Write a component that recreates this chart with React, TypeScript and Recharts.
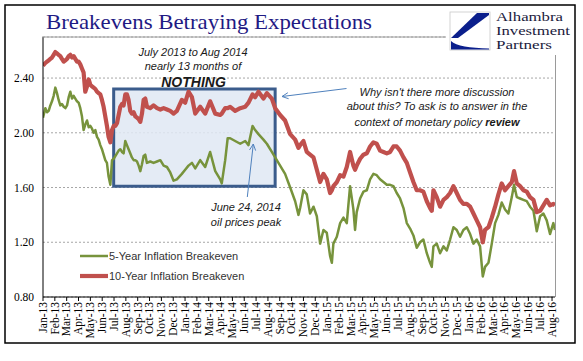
import React from "react";
import {
  LineChart,
  Line,
  XAxis,
  YAxis,
  CartesianGrid,
  ReferenceArea,
} from "recharts";

// position of each reading, in months since Jan-13
const monthPos = [
  0.0, 0.2, 0.34, 0.48, 0.62, 0.76, 0.9, 1.04, 1.18, 1.32, 1.46, 1.6, 1.75, 1.89,
  2.03, 2.17, 2.31, 2.45, 2.59, 2.73, 2.87, 3.01, 3.15, 3.29, 3.43, 3.57, 3.72,
  3.86, 4.0, 4.14, 4.28, 4.42, 4.56, 4.7, 4.84, 4.98, 5.12, 5.26, 5.4, 5.54, 5.69,
  5.83, 5.97, 6.11, 6.25, 6.39, 6.53, 6.67, 6.81, 6.95, 7.09, 7.23, 7.37, 7.51,
  7.66, 7.8, 7.94, 8.08, 8.22, 8.36, 8.5, 8.64, 8.78, 9.06, 9.34, 9.63, 9.91,
  10.19, 10.47, 10.75, 11.03, 11.31, 11.73, 12.01, 12.29, 12.58, 12.86, 13.28,
  13.7, 14.12, 14.55, 14.97, 15.1, 15.39, 15.6, 15.81, 16.23, 16.66, 17.08, 17.36,
  17.7, 17.92, 18.2, 18.62, 18.91, 19.33, 19.61, 20.03, 20.45, 20.88, 21.3, 21.58,
  21.72, 22.0, 22.28, 22.56, 22.85, 23.13, 23.41, 23.69, 23.97, 24.25, 24.4, 24.53,
  24.82, 25.1, 25.38, 25.66, 25.94, 26.22, 26.36, 26.5, 26.79, 27.07, 27.35, 27.63,
  27.91, 28.19, 28.47, 28.76, 29.04, 29.32, 29.6, 29.88, 30.16, 30.45, 30.73, 31.01,
  31.29, 31.57, 31.85, 32.13, 32.42, 32.7, 32.84, 32.98, 33.26, 33.54, 33.83, 34.11,
  34.39, 34.67, 34.95, 35.23, 35.51, 35.8, 36.08, 36.36, 36.64, 36.92, 37.15, 37.34,
  37.63, 37.91, 38.19, 38.47, 38.75, 39.03, 39.31, 39.6, 39.79, 40.02, 40.3, 40.58,
  40.86, 41.14, 41.43, 41.71, 41.99, 42.27, 42.55, 42.83, 43.11, 43.25,
];

const fiveYear = [
  2.11, 2.18, 2.15, 2.16, 2.2, 2.23, 2.27, 2.33, 2.29, 2.24, 2.2, 2.21, 2.19, 2.18,
  2.2, 2.26, 2.3, 2.25, 2.27, 2.25, 2.23, 2.22, 2.18, 2.12, 2.02, 2.06, 2.09,
  2.04, 2.05, 2.03, 2.0, 2.02, 1.97, 1.95, 1.91, 1.88, 1.84, 1.8, 1.78, 1.68, 1.62,
  1.8, 1.81, 1.83, 1.85, 1.87, 1.88, 1.86, 1.85, 1.94, 1.91, 1.88, 1.85, 1.82,
  1.8, 1.8, 1.79, 1.76, 1.72, 1.77, 1.83, 1.84, 1.78, 1.79, 1.78, 1.79, 1.8,
  1.76, 1.75, 1.71, 1.65, 1.66, 1.7, 1.73, 1.76, 1.78, 1.74, 1.8,
  1.75, 1.86, 1.72, 1.66, 1.63, 1.8, 1.96, 1.96, 1.94, 1.92, 1.94, 1.91,
  2.05, 2.02, 1.99, 1.95, 1.92, 1.86, 1.82, 1.76, 1.7, 1.6, 1.5, 1.4,
  1.45, 1.58, 1.55, 1.41, 1.46, 1.39, 1.19, 1.29, 1.27, 1.1, 1.05, 1.19,
  1.24, 1.34, 1.38, 1.34, 1.61, 1.44, 1.29, 1.42, 1.52, 1.57, 1.58, 1.66,
  1.7, 1.69, 1.66, 1.64, 1.62, 1.62, 1.61, 1.56, 1.52, 1.45, 1.34, 1.3,
  1.25, 1.16, 1.2, 1.22, 1.12, 1.05, 1.02, 1.17, 1.19, 1.12, 1.17, 1.14,
  1.22, 1.31, 1.29, 1.24, 1.29, 1.31, 1.26, 1.19, 1.22, 1.17, 0.95, 1.02,
  1.05, 1.19, 1.34, 1.4, 1.49, 1.44, 1.41, 1.53, 1.62, 1.53, 1.52, 1.51,
  1.5, 1.46, 1.43, 1.28, 1.39, 1.41, 1.36, 1.26, 1.34, 1.29,
];

const tenYear = [
  2.49, 2.51, 2.52, 2.53, 2.54, 2.55, 2.57, 2.59, 2.58, 2.57, 2.56, 2.54, 2.52, 2.53,
  2.54, 2.56, 2.57, 2.55, 2.56, 2.54, 2.52, 2.52, 2.5, 2.47, 2.44, 2.3, 2.34,
  2.39, 2.35, 2.34, 2.33, 2.32, 2.3, 2.29, 2.28, 2.24, 2.19, 2.12, 2.05, 1.97, 1.93,
  2.02, 2.05, 2.05, 2.07, 2.13, 2.19, 2.21, 2.2, 2.28, 2.28, 2.24, 2.16, 2.14,
  2.15, 2.12, 2.11, 2.1, 2.08, 2.14, 2.24, 2.25, 2.19, 2.18, 2.2, 2.18, 2.17,
  2.18, 2.17, 2.16, 2.14, 2.16, 2.24, 2.22, 2.3, 2.26, 2.14, 2.19,
  2.14, 2.23, 2.14, 2.13, 2.14, 2.18, 2.18, 2.19, 2.16, 2.18, 2.19, 2.22,
  2.28, 2.26, 2.3, 2.25, 2.29, 2.25, 2.18, 2.13, 2.09, 1.99, 1.95, 1.89,
  1.91, 1.94, 1.86, 1.84, 1.82, 1.73, 1.64, 1.7, 1.66, 1.56, 1.58, 1.61,
  1.64, 1.69, 1.68, 1.75, 1.86, 1.76, 1.73, 1.76, 1.81, 1.84, 1.85, 1.9,
  1.93, 1.92, 1.87, 1.86, 1.85, 1.86, 1.9, 1.9, 1.87, 1.82, 1.78, 1.71,
  1.64, 1.58, 1.58, 1.57, 1.5, 1.45, 1.43, 1.58, 1.53, 1.46, 1.51, 1.53,
  1.56, 1.61, 1.56, 1.51, 1.48, 1.48, 1.46, 1.41, 1.36, 1.31, 1.2, 1.29,
  1.31, 1.38, 1.46, 1.55, 1.63, 1.58, 1.61, 1.64, 1.72, 1.63, 1.61, 1.58,
  1.57, 1.53, 1.51, 1.42, 1.43, 1.47, 1.51, 1.47, 1.48, 1.47,
];

const monthLabels = [
  "Jan-13", "Feb-13", "Mar-13", "Apr-13", "May-13", "Jun-13", "Jul-13", "Aug-13",
  "Sep-13", "Oct-13", "Nov-13", "Dec-13", "Jan-14", "Feb-14", "Mar-14", "Apr-14",
  "May-14", "Jun-14", "Jul-14", "Aug-14", "Sep-14", "Oct-14", "Nov-14", "Dec-14",
  "Jan-15", "Feb-15", "Mar-15", "Apr-15", "May-15", "Jun-15", "Jul-15", "Aug-15",
  "Sep-15", "Oct-15", "Nov-15", "Dec-15", "Jan-16", "Feb-16", "Mar-16", "Apr-16",
  "May-16", "Jun-16", "Jul-16", "Aug-16",
];

const yTicks = [0.8, 1.2, 1.6, 2.0, 2.4];

// July 2013 .. Aug 2014 "nothing" window
const boxRange = { x1: 5.97, x2: 19.61, y1: 1.61, y2: 2.32 };

const series = [
  { key: "fiveYear", name: "5-Year Inflation Breakeven", color: "#77933C", width: 2.5 },
  { key: "tenYear", name: "10-Year Inflation Breakeven", color: "#C0504D", width: 4.2 },
];

const data = monthPos.map((m, i) => ({
  m,
  fiveYear: fiveYear[i],
  tenYear: tenYear[i],
}));

const serif = "'Liberation Serif', 'Times New Roman', serif";
const sans = "'Liberation Sans', Arial, sans-serif";

const MonthTick = (props: any) => {
  const { x, y, payload } = props;
  return (
    <g transform={`translate(${x},${y})`}>
      <text
        transform="rotate(-90)"
        textAnchor="end"
        dy="0.33em"
        fontFamily={serif}
        fontSize={11.5}
        fill="#000"
      >
        {monthLabels[payload.value]}
      </text>
    </g>
  );
};

// small open arrowhead at (x2, y2)
const Arrow = ({ x1, y1, x2, y2 }: { x1: number; y1: number; x2: number; y2: number }) => {
  const a = Math.atan2(y2 - y1, x2 - x1);
  const len = 7;
  const spread = 0.45;
  const p1 = [x2 - len * Math.cos(a - spread), y2 - len * Math.sin(a - spread)];
  const p2 = [x2 - len * Math.cos(a + spread), y2 - len * Math.sin(a + spread)];
  return (
    <g stroke="#4F81BD" strokeWidth={1} fill="none">
      <line x1={x1} y1={y1} x2={x2} y2={y2} />
      <polyline points={`${p1[0]},${p1[1]} ${x2},${y2} ${p2[0]},${p2[1]}`} />
    </g>
  );
};

const Overlay = () => (
  <svg
    width={583}
    height={361}
    style={{ position: "absolute", left: 0, top: 0, pointerEvents: "none" }}
  >
    {/* plot border */}
    <line x1={42} y1={37} x2={555} y2={37} stroke="#9a9a9a" strokeWidth={1} />
    <line x1={555.5} y1={37} x2={555.5} y2={297} stroke="#9a9a9a" strokeWidth={1} />

    {/* title */}
    <text
      x={46}
      y={29}
      fontFamily={serif}
      fontSize={22}
      fill="#1F1A84"
      textLength={326}
      lengthAdjust="spacingAndGlyphs"
    >
      Breakevens Betraying Expectations
    </text>

    {/* logo */}
    <rect x={446} y={7} width={127} height={48} fill="#fff" />
    <rect x={450} y={12} width={40} height={38} fill="#fff" stroke="#c8c8c8" strokeWidth={0.8} />
    <path d="M477,13 L489,13 L489,15 L458,38 L451,38 Z" fill="#0B1F8C" />
    <path d="M451,41 C456,46 470,48 489,48.5 L489,49.5 L451,49.5 Z" fill="#0B1F8C" />
    <g fontFamily={serif} fontSize={13} fill="#1a1a3c">
      <text x={496} y={21} textLength={67} lengthAdjust="spacingAndGlyphs">Alhambra</text>
      <text x={496} y={35} textLength={74} lengthAdjust="spacingAndGlyphs">Investment</text>
      <text x={496} y={48.5} textLength={56} lengthAdjust="spacingAndGlyphs">Partners</text>
    </g>

    {/* annotations */}
    <g fontFamily={sans} fontStyle="italic" fontSize={11} fill="#1a1a1a" textAnchor="middle">
      <text x={193} y={55.5}>July 2013 to Aug 2014</text>
      <text x={193} y={69.5}>nearly 13 months of</text>
      <text x={193.5} y={87} fontWeight="bold" fontSize={14}>NOTHING</text>
      <text x={437} y={95.5}>Why isn't there more discussion</text>
      <text x={437} y={110}>about this? To ask is to answer in the</text>
      <text x={437} y={125.5}>
        context of monetary policy <tspan fontWeight="bold">review</tspan>
      </text>
      <text x={246} y={210.5}>June 24, 2014</text>
      <text x={246} y={225.5}>oil prices peak</text>
    </g>
    <Arrow x1={346.5} y1={88.5} x2={282} y2={96.5} />
    <Arrow x1={247.3} y1={197} x2={253.3} y2={144} />

    {/* legend */}
    {series.map((s, i) => (
      <g key={s.key}>
        <line
          x1={80}
          x2={108}
          y1={256 + i * 20}
          y2={256 + i * 20}
          stroke={s.color}
          strokeWidth={s.width}
        />
        <text
          x={109}
          y={256 + i * 20}
          dy="0.35em"
          fontFamily={sans}
          fontSize={11}
          fill="#333"
        >
          {s.name}
        </text>
      </g>
    ))}

    {/* outer frame */}
    <rect x={5} y={5} width={570} height={338} fill="none" stroke="#000" strokeWidth={1.5} />
  </svg>
);

const App: React.FC = () => {
  return (
    <div
      style={{
        position: "absolute",
        left: 0,
        top: 0,
        width: 583,
        height: 361,
        background: "#fff",
      }}
    >
      <LineChart
        width={583}
        height={361}
        data={data}
        margin={{ top: 37, right: 28, bottom: 24, left: 8 }}
      >
        <CartesianGrid vertical={false} stroke="#a6a6a6" strokeDasharray="2 2" />
        <ReferenceArea
          x1={boxRange.x1}
          x2={boxRange.x2}
          y1={boxRange.y1}
          y2={boxRange.y2}
          fill="#dfe7f3"
          fillOpacity={0.85}
          stroke="#3b5c8c"
          strokeWidth={3}
        />
        <XAxis
          type="number"
          dataKey="m"
          domain={[0, 43.25]}
          ticks={monthLabels.map((_, i) => i)}
          interval={0}
          tickSize={4}
          tickMargin={1}
          tick={<MonthTick />}
          stroke="#000"
          height={40}
          allowDataOverflow
        />
        <YAxis
          type="number"
          domain={[0.8, 2.7]}
          ticks={yTicks}
          tickFormatter={(v: number) => v.toFixed(2)}
          tickLine={false}
          tickSize={6}
          tickMargin={3}
          width={35}
          stroke="#000"
          tick={{ fontFamily: serif, fontSize: 11.5, fill: "#000" }}
          allowDataOverflow
        />
        {series.map((s) => (
          <Line
            key={s.key}
            type="linear"
            dataKey={s.key}
            name={s.name}
            stroke={s.color}
            strokeWidth={s.width}
            strokeLinejoin="round"
            dot={false}
            isAnimationActive={false}
          />
        ))}
      </LineChart>
      <Overlay />
    </div>
  );
};

export default App;
